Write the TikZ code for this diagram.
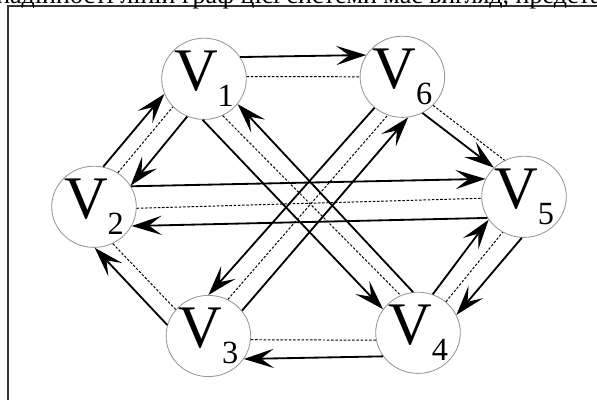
\documentclass[tikz,border=0pt]{standalone}
\usepackage{fontspec}
\setmainfont{Liberation Serif}
\usetikzlibrary{arrows.meta,shapes.geometric}
\definecolor{vgray}{RGB}{150,150,150}
\newcommand{\vlab}[1]{{\fontsize{43}{43}\selectfont V}\raisebox{-0.4cm}{\fontsize{23}{23}\selectfont #1}}
\tikzset{
  vnode/.style={draw=vgray, ellipse, line width=0.6pt, fill=white,
                minimum width=1.78cm, minimum height=2.03cm, inner sep=0pt},
  arr/.style={-{Stealth[length=0.75cm, width=0.48cm, inset=0.32cm]}, line width=1.3pt},
  dotl/.style={dash pattern=on 1.8pt off 1.2pt, line width=0.7pt},
}

\begin{document}
\begin{tikzpicture}

\useasboundingbox (0,0) rectangle (14.925,10);
\clip (0,0) rectangle (14.925,10);

% Frame and cut text line
\draw[line width=0.8pt, black!80] (0.2,-0.5) |- (15.5,9.85);
\node[anchor=base west, font=\fontsize{18.5}{20}\selectfont, inner sep=0pt]
      (caption) at (-0.1,9.9) {надійності ліній граф цієї системи має вигляд, представлений};

% Vertices
\node[vnode] (v1) at (5.10,8.03) {\vlab{1}};
\node[vnode] (v6) at (10.06,8.08) {\vlab{6}};
\node[vnode] (v2) at (2.35,4.83) {\vlab{2}};
\node[vnode] (v5) at (13.10,5.08) {\vlab{5}};
\node[vnode] (v3) at (5.21,1.60) {\vlab{3}};
\node[vnode] (v4) at (10.45,1.68) {\vlab{4}};

% Outer edges
\draw[arr] (v1.31) -- (v6.149);
\draw[dotl] (v1.3) -- (v6.180);

\draw[arr] (v2.77) -- (v1.201);
\draw[dotl] (v2.55) -- (v1.222);
\draw[arr] (v1.246) -- (v2.30);

\draw[arr] (v3.165) -- (v2.271);
\draw[dotl] (v2.297) -- (v3.141);

\draw[dotl] (v3.-5) -- (v4.190);
\draw[arr] (v4.214) -- (v3.-33);

\draw[arr] (v4.69) -- (v5.213);
\draw[dotl] (v4.48) -- (v5.239);
\draw[arr] (v5.267) -- (v4.25);

\draw[arr] (v6.299) -- (v5.136);
\draw[dotl] (v6.-43) -- (v5.118);

% Inner edges
\draw[arr] (v2.29) -- (v5.155);
\draw[dotl] (v2.-2) -- (v5.182);
\draw[arr] (v5.210) -- (v2.-27);

\draw[arr] (v1.268) -- (v4.146);
\draw[dotl] (v1.297) -- (v4.115);
\draw[arr] (v4.97) -- (v1.-37);

\draw[arr] (v6.228) -- (v3.90);
\draw[dotl] (v3.62) -- (v6.249);
\draw[arr] (v3.37) -- (v6.278);

\end{tikzpicture}
\end{document}
